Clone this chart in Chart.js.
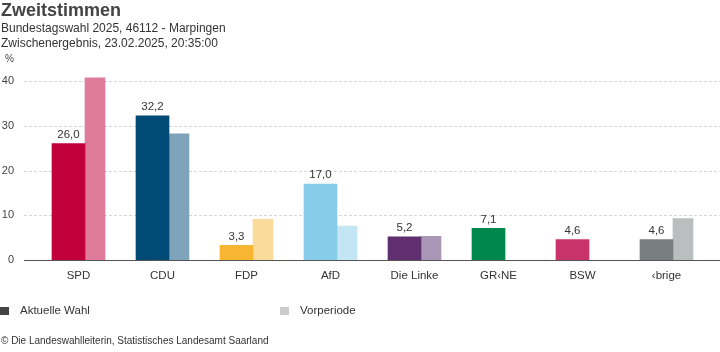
<!DOCTYPE html>
<html>
<head>
<meta charset="utf-8">
<script src="https://cdn.jsdelivr.net/npm/chart.js@4/dist/chart.umd.min.js"></script>
<style>
    body { margin: 0; background: #fff; font-family: "Liberation Sans", Arial, sans-serif; color: #333; }
    #wrap { position: relative; width: 720px; height: 352px; overflow: hidden; }
    #chart { position: absolute; left: 0; top: 0; }
    .txt { position: absolute; white-space: nowrap; }
    .title { left: 1px; top: 0px; font-size: 18px; font-weight: bold; color: #444; }
    .sub { left: 1px; font-size: 12px; color: #333; }
    .unit { left: 5px; top: 53px; font-size: 10px; color: #444; }
    .leg { top: 304px; font-size: 11.5px; color: #333; }
    .sw { position: absolute; top: 307px; width: 9px; height: 8px; }
    .foot { left: 1px; top: 335px; font-size: 10px; color: #333; }
</style>
</head>
<body>
<div id="wrap">
    <canvas id="chart" width="720" height="352"></canvas>
    <div class="txt title">Zweitstimmen</div>
    <div class="txt sub" style="top:21px">Bundestagswahl 2025, 46112 - Marpingen</div>
    <div class="txt sub" style="top:36px">Zwischenergebnis, 23.02.2025, 20:35:00</div>
    <div class="txt unit">%</div>
    <div class="sw" style="left:0;background:#444"></div>
    <div class="txt leg" style="left:20px">Aktuelle Wahl</div>
    <div class="sw" style="left:280px;background:#ccc"></div>
    <div class="txt leg" style="left:300px">Vorperiode</div>
    <div class="txt foot">© Die Landeswahlleiterin, Statistisches Landesamt Saarland</div>
</div>
<script>
// data
const parties = ['SPD', 'CDU', 'FDP', 'AfD', 'Die Linke', 'GR‹NE', 'BSW', '‹brige'];
const currentVotes = [26.0, 32.2, 3.3, 17.0, 5.2, 7.1, 4.6, 4.6];
const previousVotes = [40.7, 28.2, 9.1, 7.6, 5.3, null, null, 9.3];
const yTicks = [0, 10, 20, 30, 40];

const currentColors = ['#c1003b', '#004b76', '#f7b532', '#87cde9', '#5f2f6f', '#00874b', '#c8336a', '#797e81'];
const previousColors = ['#df7b9b', '#7fa3bb', '#fbdb9b', '#c4e6f4', '#aa96b7', '#9fd3b8', '#e399b4', '#bbbebf'];

const fmt = v => v.toFixed(1).replace('.', ',');

// grid, baseline, y labels and value labels
const decorations = {
    id: 'decorations',
    beforeDatasetsDraw(chart) {
        const { ctx, scales: { y }, width } = chart;
        ctx.save();
        ctx.font = '11px "Liberation Sans", Arial, sans-serif';
        ctx.fillStyle = '#444';
        ctx.textAlign = 'right';
        ctx.textBaseline = 'middle';
        yTicks.forEach(t => {
            const py = Math.round(y.getPixelForValue(t)) + 0.5;
            ctx.fillText(String(t), 14, py - 1);
            if (t === 0) return;
            ctx.strokeStyle = '#d6d6d6';
            ctx.lineWidth = 1;
            ctx.setLineDash([3, 2]);
            ctx.beginPath();
            ctx.moveTo(24, py);
            ctx.lineTo(width, py);
            ctx.stroke();
        });
        ctx.restore();
    },
    afterDatasetsDraw(chart) {
        const { ctx, scales: { y }, width } = chart;
        ctx.save();
        const py = Math.round(y.getPixelForValue(0)) + 0.5;
        ctx.strokeStyle = '#555';
        ctx.lineWidth = 1;
        ctx.beginPath();
        ctx.moveTo(24, py);
        ctx.lineTo(width, py);
        ctx.stroke();

        ctx.font = '11.5px "Liberation Sans", Arial, sans-serif';
        ctx.fillStyle = '#333';
        ctx.textAlign = 'center';
        ctx.textBaseline = 'bottom';
        chart.getDatasetMeta(0).data.forEach((bar, i) => {
            ctx.fillText(fmt(currentVotes[i]), bar.x, bar.y - 3);
        });
        ctx.restore();
    }
};

new Chart(document.getElementById('chart'), {
    type: 'bar',
    data: {
        labels: parties,
        datasets: [{
            label: 'Aktuelle Wahl',
            data: currentVotes,
            backgroundColor: currentColors,
            barThickness: 33
        }, {
            label: 'Vorperiode',
            data: previousVotes,
            backgroundColor: previousColors,
            barThickness: 20
        }]
    },
    options: {
        responsive: false,
        animation: false,
        layout: { padding: { left: 43, right: 5, top: 63, bottom: 60 } },
        plugins: { legend: { display: false }, tooltip: { enabled: false } },
        scales: {
            x: {
                offset: true,
                grid: { display: false, drawTicks: false },
                border: { display: false },
                ticks: {
                    padding: 9,
                    labelOffset: -6.5,
                    color: '#333',
                    font: { family: '"Liberation Sans", Arial, sans-serif', size: 11.5 }
                }
            },
            y: {
                display: false,
                min: 0,
                max: 44
            }
        }
    },
    plugins: [decorations]
});
</script>
</body>
</html>
